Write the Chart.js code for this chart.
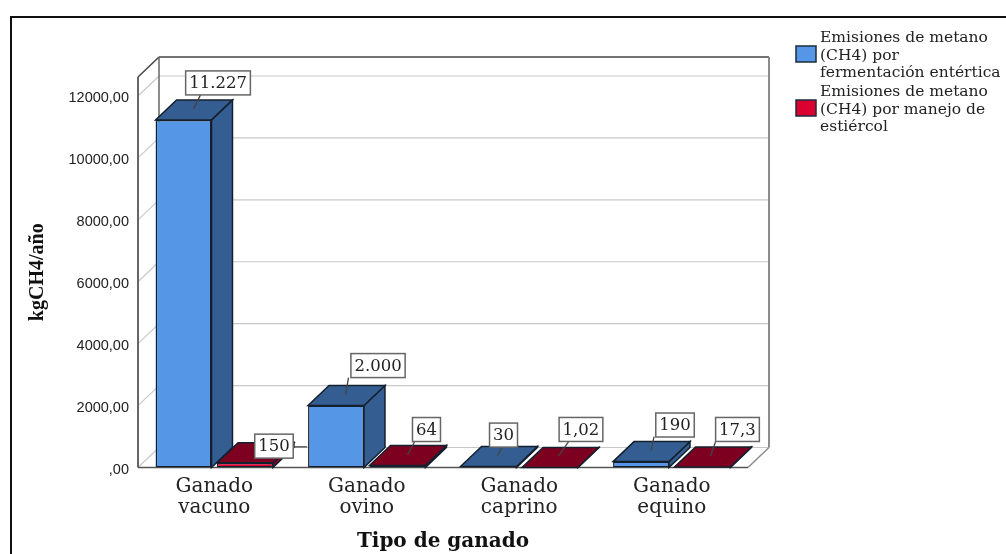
<!DOCTYPE html>
<html>
<head>
<meta charset="utf-8">
<title>Emisiones de metano</title>
<script src="https://cdn.jsdelivr.net/npm/chart.js@4/dist/chart.umd.js"></script>
<style>
  html, body { margin: 0; padding: 0; background: #fff; overflow: hidden; }
  #wrap { position: relative; width: 1006px; height: 554px; overflow: hidden; }
  #frame { position: absolute; left: 10px; top: 16px; width: 1100px; height: 700px; border: 2px solid #111; box-sizing: border-box; }
  canvas { position: absolute; left: 0; top: 0; }
</style>
</head>
<body>
<div id="wrap">
  <div id="frame"></div>
  <canvas id="chart" width="1006" height="554"></canvas>
</div>
<script>
const categories = [['Ganado', 'vacuno'], ['Ganado', 'ovino'], ['Ganado', 'caprino'], ['Ganado', 'equino']];
const entericValues = [11227, 2000, 30, 190];
const manureValues = [150, 64, 1.02, 17.3];
const yTickValues = [0, 2000, 4000, 6000, 8000, 10000, 12000];
const yTickLabels = [',00', '2000,00', '4000,00', '6000,00', '8000,00', '10000,00', '12000,00'];
const entericLabels = ['11.227', '2.000', '30', '190'];
const manureLabels = ['150', '64', '1,02', '17,3'];
const entericName = ['Emisiones de metano', '(CH4) por', 'fermentación entértica'];
const manureName = ['Emisiones de metano', '(CH4) por manejo de', 'estiércol'];

// callout placement relative to the bar top: box centre, leader start, leader end
const entericCallouts = [
  [34.5, -37, 17, -25, 10, -11],
  [42, -40, 12.5, -28, 9.5, -11],
  [15, -31.5, 14, -20, 9, -11],
  [34, -36.6, 13, -25, 10, -11]
];
const manureCallouts = [
  [29, -16.7, 48, -16, 62, -16],
  [29, -36, 17, -23.5, 10, -10.5],
  [31, -38, 18.5, -25.5, 8.5, -11.5],
  [35, -37.5, 13, -25, 8, -11]
];

const DX = 21, DY = 20;
const blue = { front: '#5596E6', dark: '#345E92' };
const red = { front: '#DC0030', dark: '#7E0020' };
const edge = '#14202e';

function poly(ctx, pts, fill, stroke, lw) {
  ctx.beginPath();
  pts.forEach((p, i) => i ? ctx.lineTo(p[0], p[1]) : ctx.moveTo(p[0], p[1]));
  ctx.closePath();
  if (fill) { ctx.fillStyle = fill; ctx.fill(); }
  if (stroke) { ctx.strokeStyle = stroke; ctx.lineWidth = lw || 1; ctx.stroke(); }
}

function line(ctx, x0, y0, x1, y1, color, lw) {
  ctx.beginPath();
  ctx.moveTo(x0, y0);
  ctx.lineTo(x1, y1);
  ctx.strokeStyle = color;
  ctx.lineWidth = lw;
  ctx.stroke();
}

const scene3d = {
  id: 'scene3d',
  beforeDatasetsDraw(chart) {
    const ctx = chart.ctx;
    const { left, right, top, bottom } = chart.chartArea;
    ctx.save();
    // walls
    chart.scales.y.ticks.forEach(t => {
      const y = chart.scales.y.getPixelForValue(t.value);
      line(ctx, left, y, left + DX, y - DY, '#c8c8c8', 1.2);
      line(ctx, left + DX, y - DY, right + DX, y - DY, '#c8c8c8', 1.2);
    });
    line(ctx, left + DX, top - DY, right + DX, top - DY, '#444', 1.5);
    line(ctx, left, top, left + DX, top - DY, '#444', 1.5);
    line(ctx, left + DX, top - DY, left + DX, bottom - DY, '#666', 1.5);
    line(ctx, right + DX, top - DY, right + DX, bottom - DY, '#8c8c8c', 2);
    line(ctx, left, top, left, bottom, '#666', 2);
    line(ctx, right, bottom, right + DX, bottom - DY, '#8c8c8c', 1.5);
    line(ctx, left, bottom, right, bottom, '#555', 1.5);
    // bar sides and tops, behind the front faces
    [blue, red].forEach((c, d) => {
      chart.getDatasetMeta(d).data.forEach(bar => {
        const x0 = bar.x - bar.width / 2, x1 = bar.x + bar.width / 2;
        poly(ctx, [[x1, bar.y], [x1 + DX, bar.y - DY], [x1 + DX, bar.base - DY], [x1, bar.base]], c.dark, edge, 1.5);
        poly(ctx, [[x0, bar.y], [x1, bar.y], [x1 + DX, bar.y - DY], [x0 + DX, bar.y - DY]], c.dark, edge, 1.5);
      });
    });
    ctx.restore();
  },
  afterDatasetsDraw(chart) {
    const ctx = chart.ctx;
    ctx.save();
    ctx.font = '16.5px "DejaVu Serif"';
    ctx.textAlign = 'center';
    ctx.textBaseline = 'middle';
    [[entericLabels, entericCallouts], [manureLabels, manureCallouts]].forEach((set, d) => {
      chart.getDatasetMeta(d).data.forEach((bar, i) => {
        const c = set[1][i], text = set[0][i];
        const cx = bar.x + c[0], cy = bar.y + c[1];
        const w = ctx.measureText(text).width + 7, h = 24;
        line(ctx, bar.x + c[2], bar.y + c[3], bar.x + c[4], bar.y + c[5], '#444', 1.3);
        ctx.fillStyle = '#fff';
        ctx.fillRect(cx - w / 2, cy - h / 2, w, h);
        ctx.strokeStyle = '#666';
        ctx.lineWidth = 1.5;
        ctx.strokeRect(cx - w / 2, cy - h / 2, w, h);
        ctx.fillStyle = '#222';
        ctx.fillText(text, cx, cy + 1);
      });
    });
    // legend
    ctx.font = '15.5px "DejaVu Serif"';
    ctx.textAlign = 'left';
    [[entericName, blue.front, 38], [manureName, red.front, 92]].forEach(row => {
      row[0].forEach((txt, i) => {
        ctx.fillStyle = '#222';
        ctx.fillText(txt, 820, row[2] + i * 17.5);
      });
      ctx.fillStyle = row[1];
      ctx.fillRect(796, row[2] + 8, 20, 16);
      ctx.strokeStyle = '#1c2b3c';
      ctx.lineWidth = 1.5;
      ctx.strokeRect(796, row[2] + 8, 20, 16);
    });
    ctx.restore();
  }
};

new Chart(document.getElementById('chart'), {
  type: 'bar',
  plugins: [scene3d],
  data: {
    labels: categories,
    datasets: [
      { label: entericName.join(' '), data: entericValues, backgroundColor: blue.front, borderColor: edge, borderWidth: 1.5, borderSkipped: false },
      { label: manureName.join(' '), data: manureValues, backgroundColor: red.front, borderColor: edge, borderWidth: 1.5, borderSkipped: false }
    ]
  },
  options: {
    responsive: false,
    animation: false,
    devicePixelRatio: 1,
    categoryPercentage: 0.806,
    barPercentage: 0.91,
    layout: { padding: { left: 0, right: 258, top: 77, bottom: 0 } },
    plugins: { legend: { display: false }, tooltip: { enabled: false } },
    scales: {
      x: {
        afterFit: s => { s.height = 86.5; },
        grid: { display: false },
        border: { display: false },
        ticks: {
          autoSkip: false,
          maxRotation: 0,
          padding: 1,
          color: '#222',
          font: { family: '"DejaVu Serif"', size: 20, lineHeight: 1.05 }
        },
        title: {
          display: true,
          text: 'Tipo de ganado',
          color: '#111',
          padding: { top: 0, bottom: 0 },
          font: { family: '"DejaVu Serif"', size: 20, weight: 'bold' }
        }
      },
      y: {
        min: 0,
        max: 12613,
        afterFit: s => { s.width = 138; },
        afterBuildTicks: s => { s.ticks = yTickValues.map(value => ({ value })); },
        grid: { display: false, drawTicks: false },
        border: { display: false },
        ticks: {
          padding: 9,
          labelOffset: 2,
          color: '#222',
          font: { family: '"Liberation Sans"', size: 14.5 },
          callback: (v, i) => yTickLabels[i]
        },
        title: {
          display: true,
          text: 'kgCH4/año',
          color: '#111',
          padding: { top: 26, bottom: 0 },
          font: { family: '"Liberation Serif"', size: 20, weight: 'bold' }
        }
      }
    }
  }
});
</script>
</body>
</html>
